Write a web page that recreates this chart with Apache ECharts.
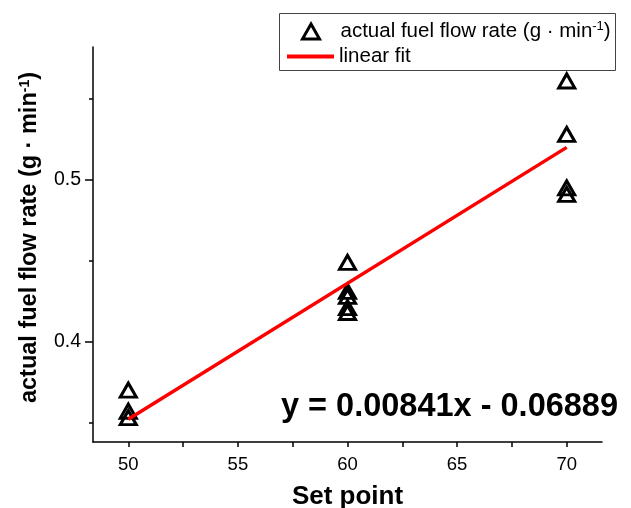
<!DOCTYPE html>
<html>
<head>
<meta charset="utf-8">
<script src="https://cdn.jsdelivr.net/npm/echarts@6/dist/echarts.min.js"></script>
<style>
  html, body { margin: 0; padding: 0; background: #fff; }
  #chart { width: 631px; height: 508px; }
</style>
</head>
<body>
<div id="chart"></div>
<script>
// measured points
const setPoints = [50, 50, 50, 60, 60, 60, 60, 60, 70, 70, 70, 70];
const flowRates = [0.370, 0.357, 0.353, 0.449, 0.431, 0.428, 0.421, 0.418, 0.561, 0.528, 0.495, 0.491];

// linear fit ends
const fitX = [50, 70];
const fitY = [0.352, 0.520];

// ticks
const xMajorTicks = [50, 55, 60, 65, 70];
const xMinorTicks = [52.5, 57.5, 62.5, 67.5];
const yMajorTicks = [0.4, 0.5];
const yMinorTicks = [0.35, 0.45, 0.55];

const equation = 'y = 0.00841x - 0.06889';

const FONT = 'Liberation Sans, Arial, sans-serif';

const chart = echarts.init(document.getElementById('chart'));

const scatterData = setPoints.map((x, i) => [x, flowRates[i]]);
const fitData = fitX.map((x, i) => [x, fitY[i]]);

const option = {
  backgroundColor: '#fff',
  animation: false,
  grid: { left: 93, right: 29, top: 47, bottom: 66, outerBoundsMode: 'none', containLabel: false },
  graphic: [
    {
      type: 'rect',
      z: 1,
      shape: { x: 279.5, y: 13.5, width: 336, height: 57 },
      style: { fill: '#fff', stroke: '#444', lineWidth: 1 }
    },
    {
      type: 'text',
      z: 10,
      right: 13,
      top: 391,
      style: { text: equation, font: 'bold 32.5px ' + FONT, fill: '#000' }
    }
  ],
  legend: [
    {
      data: ['actual fuel flow rate'],
      left: 296,
      top: 15,
      z: 5,
      itemWidth: 17,
      itemHeight: 15,
      itemStyle: { borderColor: '#000', borderWidth: 3, opacity: 1 },
      formatter: () => '{t|actual fuel flow rate (g \u00b7 min}{s|-1}{t|)}',
      textStyle: {
        padding: [0, 0, 0, 16],
        rich: {
          t: { fontFamily: FONT, fontSize: 20.5, color: '#000' },
          s: { fontFamily: FONT, fontSize: 13, color: '#000', verticalAlign: 'bottom', padding: [0, 0, 10, 0] }
        }
      }
    },
    {
      data: [{ name: 'linear fit', icon: 'rect' }],
      left: 282,
      top: 41,
      z: 5,
      itemWidth: 47,
      itemHeight: 4,
      textStyle: { fontFamily: FONT, fontSize: 20.5, color: '#000' }
    }
  ],
  xAxis: {
    type: 'value',
    min: 48.39,
    max: 71.61,
    name: 'Set point',
    nameLocation: 'middle',
    nameGap: 42,
    nameTextStyle: { fontFamily: FONT, fontSize: 26, fontWeight: 'bold', color: '#000' },
    axisLine: { show: true, lineStyle: { color: '#000', width: 1.5 } },
    axisTick: { show: true, length: 5, customValues: xMajorTicks.concat(xMinorTicks), lineStyle: { color: '#000', width: 1.5 } },
    axisLabel: { customValues: xMajorTicks, margin: 13, fontFamily: FONT, fontSize: 18.5, color: '#000' },
    splitLine: { show: false }
  },
  yAxis: [
    {
      type: 'value',
      min: 0.338,
      max: 0.582,
      name: '{t|actual fuel flow rate (g \u00b7 min}{s|-1}{t|)}',
      nameLocation: 'middle',
      nameGap: 51,
      nameTextStyle: {
        padding: [0, 0, 0, 14],
        rich: {
          t: { fontFamily: FONT, fontSize: 23.5, fontWeight: 'bold', color: '#000' },
          s: { fontFamily: FONT, fontSize: 14, fontWeight: 'bold', color: '#000', verticalAlign: 'bottom', padding: [0, 0, 10, 0] }
        }
      },
      axisLine: { show: true, lineStyle: { color: '#000', width: 1.5 } },
      axisTick: { show: true, length: 8, customValues: yMajorTicks, lineStyle: { color: '#000', width: 1.5 } },
      axisLabel: { customValues: yMajorTicks, margin: 12, fontFamily: FONT, fontSize: 19.5, color: '#000', formatter: v => v.toFixed(1) },
      splitLine: { show: false }
    },
    {
      type: 'value',
      position: 'left',
      min: 0.338,
      max: 0.582,
      axisLine: { show: false },
      axisTick: { show: true, length: 4, customValues: yMinorTicks, lineStyle: { color: '#000', width: 1.5 } },
      axisLabel: { show: false },
      splitLine: { show: false }
    }
  ],
  series: [
    {
      name: 'actual fuel flow rate',
      type: 'scatter',
      symbol: 'triangle',
      symbolSize: [16, 14],
      z: 3,
      itemStyle: { color: 'rgba(255,255,255,0)', borderColor: '#000', borderWidth: 3, opacity: 1 },
      data: scatterData
    },
    {
      name: 'linear fit',
      type: 'line',
      showSymbol: false,
      symbol: 'none',
      z: 4,
      lineStyle: { color: '#ff0000', width: 3.5 },
      itemStyle: { color: '#ff0000' },
      data: fitData
    }
  ]
};

chart.setOption(option);
</script>
</body>
</html>
